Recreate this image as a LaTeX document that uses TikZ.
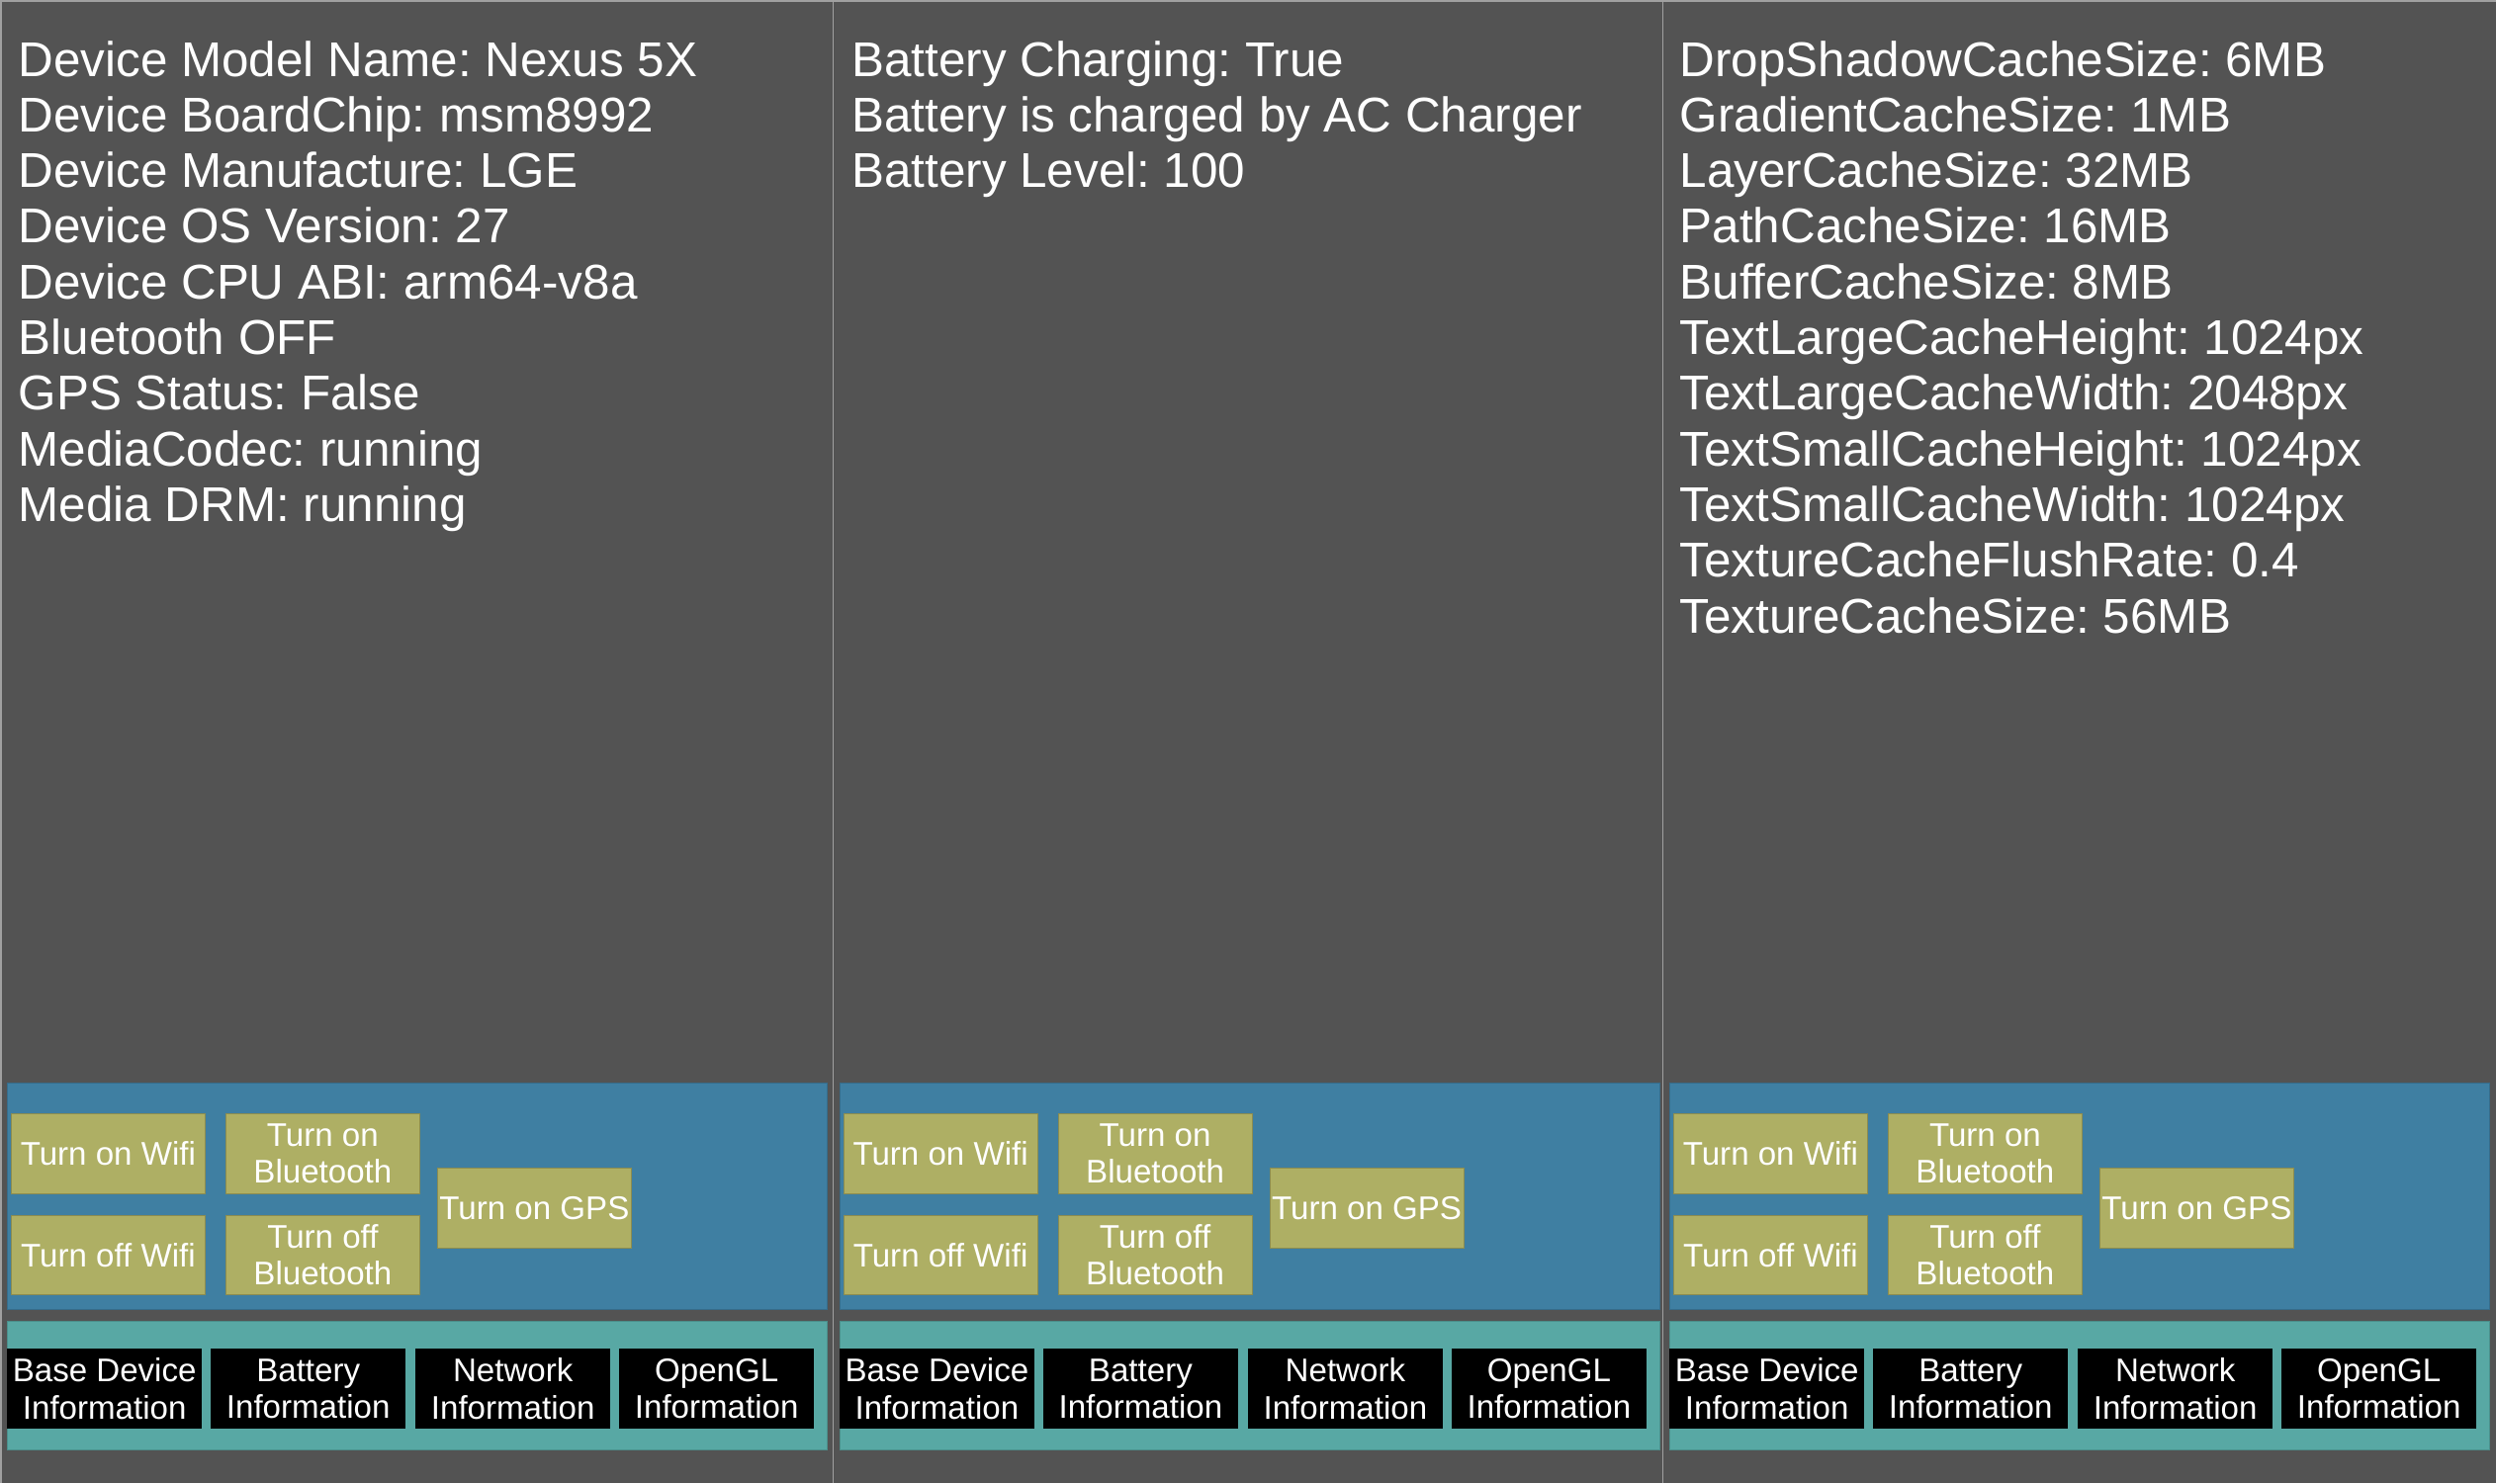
\documentclass[tikz,border=0pt]{standalone}
\usepackage{fontspec}
\setmainfont{Liberation Sans}
\frenchspacing
\definecolor{bg}{HTML}{535353}
\definecolor{edgegray}{HTML}{A0A0A0}
\definecolor{barblue}{HTML}{3F7FA2}
\definecolor{olive}{HTML}{AEAF64}
\definecolor{teal2}{HTML}{58A8A4}
\begin{document}
\begin{tikzpicture}[x=1pt,y=-1pt,
  info/.style={font=\fontsize{49.4}{56}\selectfont, text=white, anchor=base west, inner sep=0pt},
  bluebar/.style={fill=barblue, draw=barblue!85!black, line width=0.8pt, anchor=north west, inner sep=0pt, minimum width=829pt, minimum height=229pt},
  tealbar/.style={fill=teal2, draw=teal2!85!black, line width=0.8pt, anchor=north west, inner sep=0pt, minimum width=829pt, minimum height=130pt},
  btn/.style={fill=olive, draw=olive!80!black, line width=0.8pt, anchor=north west, inner sep=0pt, minimum width=196pt, minimum height=81pt, text=white, align=center, font=\fontsize{33.1}{37}\selectfont},
  tab/.style={fill=black, anchor=north west, inner sep=0pt, minimum width=197pt, minimum height=81pt, text=white, align=center, font=\fontsize{33.1}{37.5}\selectfont}]
\useasboundingbox (0,0) rectangle (2524,1500);
\fill[bg] (0,0) rectangle (2524,1500);
\draw[edgegray, line width=1.5pt] (0.75,1500) -- (0.75,0.75) -- (2524,0.75);
\draw[edgegray, line width=1.5pt] (842.3,0) -- (842.3,1500);
\draw[edgegray, line width=1.5pt] (1681.3,0) -- (1681.3,1500);
% texts column 1
\foreach \t [count=\i] in {Device Model Name: Nexus 5X, Device BoardChip: msm8992, Device Manufacture: LGE, Device OS Version: 27, Device CPU ABI: arm64-v8a, Bluetooth OFF, GPS Status: False, MediaCodec: running, Media DRM: running}
  \node[info] (a\i) at (18.5,{77+(\i-1)*56.3}) {\t};
% texts column 2
\foreach \t [count=\i] in {Battery Charging: True, Battery is charged by AC Charger, Battery Level: 100}
  \node[info] (b\i) at (861,{77+(\i-1)*56.3}) {\t};
% texts column 3
\foreach \t [count=\i] in {DropShadowCacheSize: 6MB, GradientCacheSize: 1MB, LayerCacheSize: 32MB, PathCacheSize: 16MB, BufferCacheSize: 8MB, TextLargeCacheHeight: 1024px, TextLargeCacheWidth: 2048px, TextSmallCacheHeight: 1024px, TextSmallCacheWidth: 1024px, TextureCacheFlushRate: 0.4, TextureCacheSize: 56MB}
  \node[info] (c\i) at (1698.5,{77+(\i-1)*56.3}) {\t};
% panels and buttons
\foreach \c/\L in {1/0, 2/841.7, 3/1681}{
  \node[bluebar] (blue\c) at (\L+7,1095) {};
  \node[tealbar] (teal\c) at (\L+7,1336) {};
  \node[btn] (wifion\c) at (\L+11,1126) {Turn on Wifi};
  \node[btn] (bton\c) at (\L+228,1126) {Turn on\\Bluetooth};
  \node[btn, minimum height=80pt] (wifioff\c) at (\L+11,1229) {Turn off Wifi};
  \node[btn, minimum height=80pt] (btoff\c) at (\L+228,1229) {Turn off\\Bluetooth};
  \node[btn] (gps\c) at (\L+442,1181) {Turn on GPS};
  \node[tab] (base\c) at (\L+7,1364) {Base Device\\Information};
  \node[tab] (batt\c) at (\L+213,1364) {Battery\\Information};
  \node[tab] (net\c) at (\L+420,1364) {Network\\Information};
  \node[tab] (gl\c) at (\L+626,1364) {OpenGL\\Information};
}
\end{tikzpicture}
\end{document}
